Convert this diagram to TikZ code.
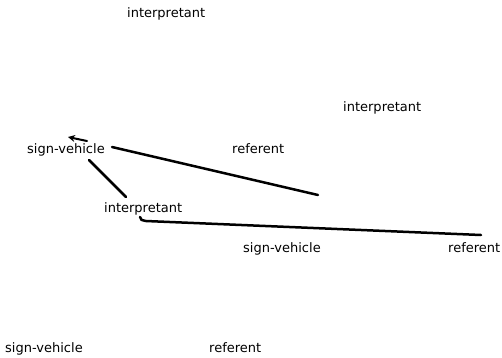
\documentclass[tikz,border=0pt]{standalone}
\usepackage{fontspec}
\setmainfont{DejaVu Sans}
\usetikzlibrary{arrows.meta}
\tikzset{
  lbl/.style={anchor=base west, inner sep=0pt, font=\fontsize{13}{15}\selectfont},
  stroke/.style={line width=2.5pt, line cap=round},
}
\begin{document}
\begin{tikzpicture}[x=1pt,y=-1pt]
\useasboundingbox (0,0) rectangle (502,357);
% labels
\node[lbl] (i1) at (127,17) {interpretant};
\node[lbl] (i2) at (343,111) {interpretant};
\node[lbl] (s1) at (27,153) {sign-vehicle};
\node[lbl] (r1) at (232,153) {referent};
\node[lbl] (i3) at (104,212) {interpretant};
\node[lbl] (s2) at (243,252) {sign-vehicle};
\node[lbl] (r2) at (448,252) {referent};
\node[lbl] (s3) at (5,352) {sign-vehicle};
\node[lbl] (r3) at (209,352) {referent};
% connector end points
\coordinate (a0) at (87,141);
\coordinate (a1) at (68,137);
\coordinate (p0) at (112,147);
\coordinate (p1) at (318,195);
\coordinate (q0) at (89,160);
\coordinate (q1) at (126,197);
\coordinate (h0) at (140,217);
\coordinate (h1) at (146,221);
\coordinate (h2) at (481,235);
% connectors
\draw[stroke, -{Stealth[length=7pt,width=7pt]}, line width=2pt] (a0) -- (a1);
\draw[stroke] (p0) -- (p1);
\draw[stroke] (q0) -- (q1);
\draw[stroke] (h0) .. controls (141,220) .. (h1) -- (h2);
\end{tikzpicture}
\end{document}
